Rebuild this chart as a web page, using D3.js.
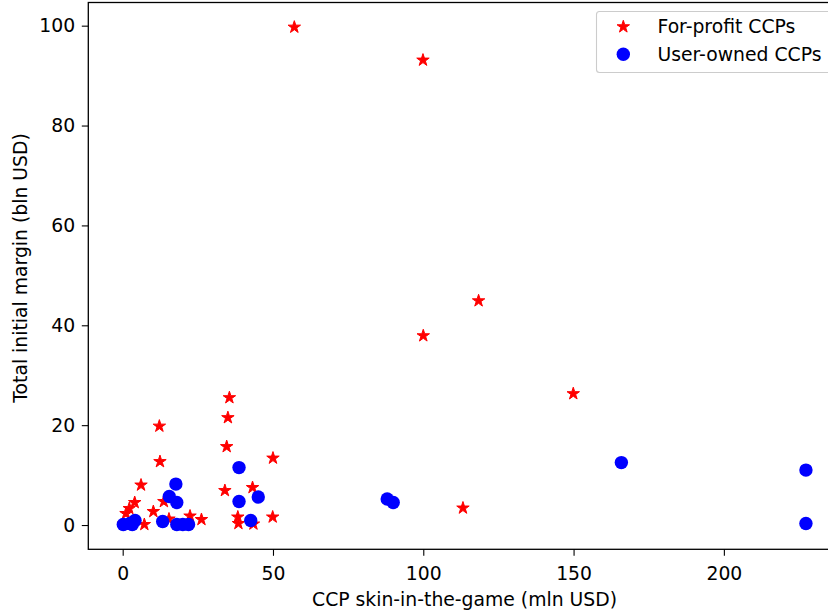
<!DOCTYPE html>
<html>
<head>
<meta charset="utf-8">
<script src="https://cdn.jsdelivr.net/npm/d3@7"></script>
<style>
  html, body { margin: 0; padding: 0; background: #fff; }
  svg { display: block; font-family: "DejaVu Sans", sans-serif; }
</style>
</head>
<body>
<div id="chart"></div>
<script>
// For-profit CCPs: [skin-in-the-game (mln USD), total initial margin (bln USD)]
const forProfit = [
  [57.1, 99.7], [99.9, 93.1], [118.4, 44.9], [100.0, 37.9], [149.9, 26.3],
  [113.2, 3.4], [35.5, 25.5], [35.0, 21.5], [34.6, 15.7], [50.0, 13.4],
  [12.2, 19.8], [12.4, 12.7], [34.0, 6.9], [43.2, 7.5], [6.1, 8.0],
  [4.0, 4.5], [13.7, 4.7], [10.2, 2.7], [2.2, 3.3], [1.1, 2.3],
  [22.4, 1.8], [26.2, 1.1], [49.9, 1.6], [38.3, 1.6], [38.5, 0.3],
  [43.5, 0.2], [7.2, 0.1], [15.4, 1.2], [0.3, 0.2]
];

// User-owned CCPs
const userOwned = [
  [165.9, 12.5], [227.3, 11.0], [227.3, 0.3], [88.0, 5.2], [90.0, 4.5],
  [38.7, 11.5], [17.7, 8.2], [15.5, 5.7], [18.0, 4.5], [38.7, 4.7],
  [45.1, 5.6], [42.6, 0.9], [13.3, 0.7], [18.0, 0.1], [20.0, 0.1],
  [21.9, 0.1], [0.2, 0.1], [2.4, 0.3], [4.1, 0.9], [3.2, 0.1]
];

const xTicks = [0, 50, 100, 150, 200];
const yTicks = [0, 20, 40, 60, 80, 100];
const xLabel = "CCP skin-in-the-game (mln USD)";
const yLabel = "Total initial margin (bln USD)";
const legendLabels = ["For-profit CCPs", "User-owned CCPs"];

const W = 828, H = 611;
// plot box (right edge runs past the picture, as in the original)
const box = { left: 88.3, top: 2.5, right: 840.8, bottom: 549.3 };

const svg = d3.select("#chart").append("svg")
  .attr("width", W)
  .attr("height", H)
  .style("overflow", "hidden");

// matplotlib-like 5% margins
const x = d3.scaleLinear().domain([-11.44, 238.9]).range([box.left, box.right]);
const y = d3.scaleLinear().domain([-4.86, 104.64]).range([box.bottom, box.top]);

const fontSize = 18.8;

// --- axes ---
const xAxis = svg.append("g")
  .attr("transform", `translate(0,${box.bottom})`)
  .call(d3.axisBottom(x).tickValues(xTicks).tickSize(6.5).tickPadding(10.5).tickFormat(d3.format("d")));
const yAxis = svg.append("g")
  .attr("transform", `translate(${box.left},0)`)
  .call(d3.axisLeft(y).tickValues(yTicks).tickSize(6.5).tickPadding(6.7).tickFormat(d3.format("d")));

[xAxis, yAxis].forEach(g => {
  g.select(".domain").remove();
  g.selectAll(".tick line").attr("stroke", "#000").attr("stroke-width", 1.1);
  g.selectAll(".tick text")
    .attr("fill", "#000")
    .style("font-size", fontSize + "px")
    .style("font-family", "'DejaVu Sans', sans-serif");
});

// --- markers ---
const star = d3.symbol().type(d3.symbolStar).size(48);

svg.append("g").selectAll("path")
  .data(forProfit)
  .enter()
  .append("path")
  .attr("transform", d => `translate(${x(d[0])},${y(d[1])})`)
  .attr("d", star)
  .attr("fill", "#ff0000")
  .attr("stroke", "#ff0000")
  .attr("stroke-width", 1);

svg.append("g").selectAll("circle")
  .data(userOwned)
  .enter()
  .append("circle")
  .attr("cx", d => x(d[0]))
  .attr("cy", d => y(d[1]))
  .attr("r", 6.7)
  .attr("fill", "#0000ff");

// --- frame ---
svg.append("rect")
  .attr("x", box.left)
  .attr("y", box.top)
  .attr("width", box.right - box.left)
  .attr("height", box.bottom - box.top)
  .attr("fill", "none")
  .attr("stroke", "#000")
  .attr("stroke-width", 1.3);

// --- axis labels ---
svg.append("text")
  .attr("x", (box.left + box.right) / 2)
  .attr("y", 606)
  .attr("text-anchor", "middle")
  .style("font-size", fontSize + "px")
  .text(xLabel);

svg.append("text")
  .attr("transform", "translate(27,268) rotate(-90)")
  .attr("text-anchor", "middle")
  .style("font-size", fontSize + "px")
  .text(yLabel);

// --- legend ---
const legend = svg.append("g");
legend.append("rect")
  .attr("x", 596.5)
  .attr("y", 11.5)
  .attr("width", 836 - 596.5)
  .attr("height", 61)
  .attr("rx", 3)
  .attr("fill", "#fff")
  .attr("fill-opacity", 0.8)
  .attr("stroke", "#cccccc")
  .attr("stroke-width", 1.1);

legend.append("path")
  .attr("transform", "translate(623.3,26.8)")
  .attr("d", star)
  .attr("fill", "#ff0000")
  .attr("stroke", "#ff0000");

legend.append("circle")
  .attr("cx", 623.3)
  .attr("cy", 54.3)
  .attr("r", 6.7)
  .attr("fill", "#0000ff");

legend.selectAll("text.lbl")
  .data(legendLabels)
  .enter()
  .append("text")
  .attr("class", "lbl")
  .attr("x", 657.5)
  .attr("y", (d, i) => 26.8 + i * 27.5)
  .attr("dy", "0.35em")
  .style("font-size", fontSize + "px")
  .text(d => d);
</script>
</body>
</html>
